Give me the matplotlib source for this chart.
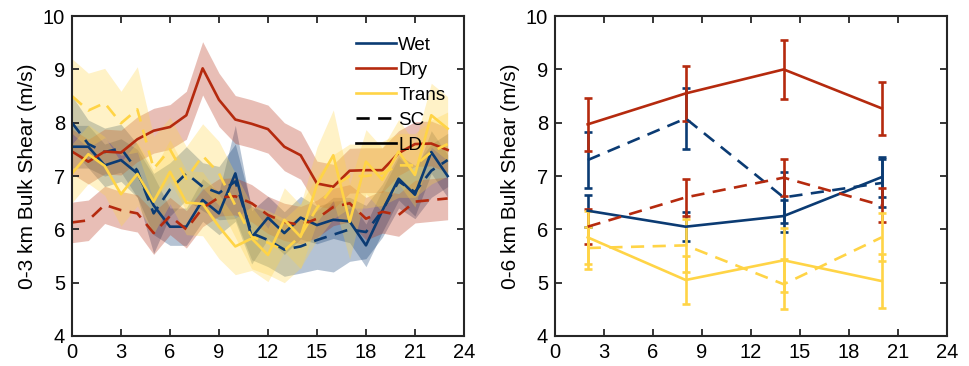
import matplotlib
matplotlib.use('Agg')
import matplotlib.pyplot as plt
import numpy as np
from matplotlib.lines import Line2D

plt.rcParams['font.family'] = ['Liberation Sans', 'DejaVu Sans']

# hourly composites (left panel)
hours = list(range(24))
wet_ld = [7.55, 7.55, 7.2, 7.3, 7.05, 6.45, 6.05, 6.05, 6.55, 6.3, 7.05, 5.85,
          6.22, 5.93, 6.22, 6.08, 6.18, 6.15, 5.7, 6.35, 6.95, 6.65, 7.45, 7.0]
wet_sc = [8.0, 7.6, 7.45, 7.52, 7.1, 6.3, 6.75, 7.05, 6.8, 6.68, 6.9, 5.93,
          5.8, 5.62, 5.68, 5.8, 5.9, 6.0, 5.95, 6.35, 6.9, 6.7, 7.1, 7.3]
dry_ld = [7.46, 7.27, 7.46, 7.44, 7.69, 7.85, 7.92, 8.14, 9.02, 8.43, 8.06, 7.98,
          7.88, 7.55, 7.39, 6.86, 6.8, 7.1, 7.11, 7.11, 7.43, 7.6, 7.61, 7.49]
dry_sc = [6.13, 6.17, 6.46, 6.36, 6.3, 5.93, 6.25, 6.0, 6.4, 6.6, 6.62, 6.49,
          6.27, 6.14, 6.08, 6.2, 6.42, 6.49, 6.2, 6.33, 6.27, 6.52, 6.55, 6.58]
trans_ld = [7.05, 7.41, 7.19, 6.66, 7.04, 6.52, 7.08, 6.5, 6.48, 6.05, 5.68, 5.83,
            5.52, 6.18, 5.86, 6.84, 7.39, 6.14, 7.27, 6.93, 7.46, 7.02, 8.14, 7.89]
trans_sc = [8.5, 8.23, 8.37, 7.99, 8.25, 7.14, 7.5, 6.95, 7.38, 7.05, 6.45, 5.86,
            5.75, 5.6, 5.88, 6.4, 6.8, 7.0, 7.0, 7.05, 7.2, 7.2, 7.45, 7.6]

# shading half-widths
wet_ld_sd = [0.4, 0.4, 0.4, 0.4, 0.45, 0.55, 0.35, 0.35, 0.4, 0.4, 0.9, 0.5,
             0.4, 0.4, 0.4, 0.35, 0.35, 0.4, 0.4, 0.4, 0.4, 0.4, 0.4, 0.4]
wet_sc_sd = [0.5, 0.45, 0.45, 0.45, 0.5, 0.75, 0.5, 0.5, 0.45, 0.5, 0.7, 0.5,
             0.5, 0.5, 0.5, 0.55, 0.7, 0.6, 0.5, 0.5, 0.5, 0.5, 0.5, 0.5]
dry_ld_sd = [0.42, 0.42, 0.42, 0.42, 0.42, 0.42, 0.42, 0.45, 0.5, 0.5, 0.45, 0.45,
             0.45, 0.45, 0.45, 0.42, 0.42, 0.42, 0.42, 0.42, 0.42, 0.42, 0.42, 0.42]
dry_sc_sd = [0.38, 0.38, 0.35, 0.35, 0.35, 0.4, 0.35, 0.35, 0.35, 0.35, 0.35, 0.35,
             0.35, 0.35, 0.35, 0.35, 0.35, 0.35, 0.4, 0.4, 0.4, 0.4, 0.4, 0.4]
trans_ld_sd = [0.55, 0.55, 0.55, 0.6, 0.6, 0.6, 0.6, 0.6, 0.6, 0.6, 0.53, 0.6,
               0.5, 0.6, 0.6, 0.7, 0.85, 0.7, 0.6, 0.6, 0.6, 0.6, 0.6, 0.6]
trans_sc_sd = [0.7, 0.7, 0.65, 0.6, 0.8, 0.6, 0.6, 0.6, 0.6, 0.6, 0.6, 0.6,
               0.6, 0.6, 0.6, 0.6, 0.6, 0.6, 0.6, 0.6, 0.6, 0.6, 0.6, 0.6]

# 6-hourly composites (right panel)
hours6 = [2, 8, 14, 20]
wet_ld_6 = [6.35, 6.05, 6.25, 6.98]
wet_ld_6e = [0.3, 0.27, 0.3, 0.37]
wet_sc_6 = [7.3, 8.08, 6.6, 6.87]
wet_sc_6e = [0.53, 0.58, 0.48, 0.45]
dry_ld_6 = [7.97, 8.55, 9.0, 8.27]
dry_ld_6e = [0.5, 0.52, 0.55, 0.5]
dry_sc_6 = [6.05, 6.6, 6.97, 6.45]
dry_sc_6e = [0.33, 0.35, 0.35, 0.32]
trans_ld_6 = [5.85, 5.05, 5.42, 5.03]
trans_ld_6e = [0.5, 0.45, 0.6, 0.5]
trans_sc_6 = [5.65, 5.7, 4.97, 5.85]
trans_sc_6e = [0.4, 0.5, 0.47, 0.45]

c_wet = '#0b3b73'
c_dry = '#b52a0e'
c_trans = '#ffd446'
dash = (0, (5, 3.2))
lw = 1.9

fig = plt.figure(figsize=(9.69, 3.66), dpi=100)
ax1 = fig.add_axes([0.0743, 0.082, 0.4045, 0.874])
ax2 = fig.add_axes([0.5728, 0.082, 0.4045, 0.874])

left_series = [
    (wet_sc, wet_sc_sd, c_wet, dash),
    (wet_ld, wet_ld_sd, c_wet, '-'),
    (dry_sc, dry_sc_sd, c_dry, dash),
    (dry_ld, dry_ld_sd, c_dry, '-'),
    (trans_sc, trans_sc_sd, c_trans, dash),
    (trans_ld, trans_ld_sd, c_trans, '-'),
]
for vals, sd, col, ls in left_series:
    v = np.array(vals)
    s = np.array(sd)
    ax1.plot(hours, v, color=col, ls=ls, lw=lw)
    ax1.fill_between(hours, v - s, v + s, color=col, alpha=0.3, lw=0)

right_series = [
    (wet_sc_6, wet_sc_6e, c_wet, dash),
    (wet_ld_6, wet_ld_6e, c_wet, '-'),
    (dry_sc_6, dry_sc_6e, c_dry, dash),
    (dry_ld_6, dry_ld_6e, c_dry, '-'),
    (trans_sc_6, trans_sc_6e, c_trans, dash),
    (trans_ld_6, trans_ld_6e, c_trans, '-'),
]
for vals, err, col, ls in right_series:
    line = ax2.errorbar(hours6, vals, yerr=err, color=col, lw=lw, elinewidth=lw,
                        capsize=3, capthick=lw)
    line[0].set_linestyle(ls)

handles = [Line2D([], [], color=c_wet, lw=lw),
           Line2D([], [], color=c_dry, lw=lw),
           Line2D([], [], color=c_trans, lw=lw),
           Line2D([], [], color='k', lw=lw, ls=dash),
           Line2D([], [], color='k', lw=lw)]
ax1.legend(handles, ['Wet', 'Dry', 'Trans', 'SC', 'LD'], loc='upper left',
           bbox_to_anchor=(0.725, 0.935), frameon=False, fontsize=13.5,
           handlelength=2.1, handletextpad=0.15, labelspacing=0.42,
           borderpad=0, borderaxespad=0)

for ax, lab in [(ax1, '0-3 km Bulk Shear (m/s)'), (ax2, '0-6 km Bulk Shear (m/s)')]:
    ax.set_xlim(0, 24)
    ax.set_ylim(4, 10)
    ax.set_xticks(range(0, 25, 3))
    ax.set_yticks(range(4, 11))
    ax.set_ylabel(lab, fontsize=15, labelpad=4)
    ax.tick_params(direction='in', top=True, right=True, length=5, width=1.3,
                   labelsize=14.5, color='#262626', pad=5)
    for sp in ax.spines.values():
        sp.set_linewidth(1.5)
        sp.set_color('#262626')

plt.savefig('out.png', dpi=100)
